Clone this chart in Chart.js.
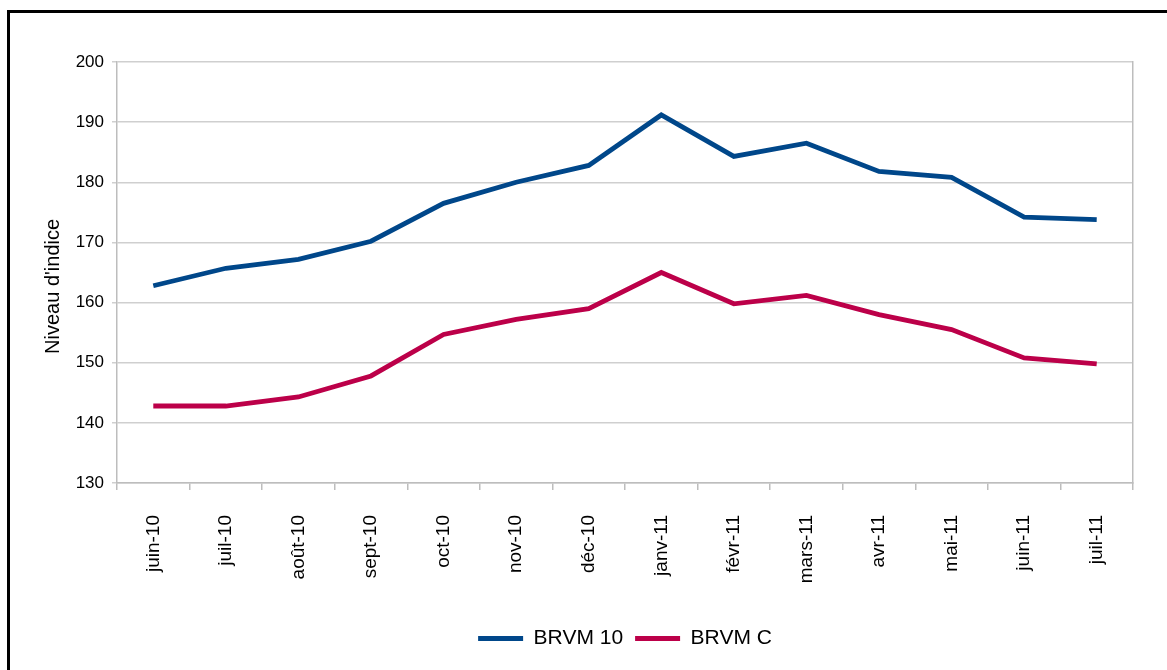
<!DOCTYPE html>
<html>
<head>
<meta charset="utf-8">
<script src="https://cdn.jsdelivr.net/npm/chart.js@4.4.0/dist/chart.umd.min.js"></script>
<style>
  html, body { margin: 0; padding: 0; background: #fff; overflow: hidden; }
  #frame { position: absolute; left: 7px; top: 10px; width: 1300px; height: 800px;
           border-left: 3px solid #000; border-top: 3px solid #000; }
  #wrap { position: absolute; left: 0; top: 0; width: 1167px; height: 670px; }
</style>
</head>
<body>
<div id="frame"></div>
<div id="wrap"><canvas id="c" width="1167" height="670"></canvas></div>
<script>
const categories = ["juin-10","juil-10","août-10","sept-10","oct-10","nov-10","déc-10","janv-11","févr-11","mars-11","avr-11","mai-11","juin-11","juil-11"];
const brvm10 = [162.8,165.7,167.2,170.2,176.5,180.0,182.8,191.2,184.3,186.5,181.8,180.8,174.2,173.8];
const brvmC  = [142.8,142.8,144.3,147.8,154.7,157.2,159.0,165.0,159.8,161.2,158.0,155.5,150.8,149.8];
const yTicks = [130,140,150,160,170,180,190,200];

const FONT = "'Liberation Sans', Arial, sans-serif";
const AXIS_GRAY = '#bdbdbd';

new Chart(document.getElementById('c'), {
  type: 'line',
  data: {
    labels: categories,
    datasets: [
      { label: 'BRVM 10', data: brvm10, borderColor: '#00478A', backgroundColor: '#00478A',
        borderWidth: 4.8, pointRadius: 0, tension: 0, yAxisID: 'y' },
      { label: 'BRVM C', data: brvmC, borderColor: '#BC0049', backgroundColor: '#BC0049',
        borderWidth: 4.8, pointRadius: 0, tension: 0, yAxisID: 'y' }
    ]
  },
  options: {
    responsive: false,
    animation: false,
    devicePixelRatio: 1,
    layout: { padding: { left: 30, top: 62, right: 34, bottom: 11 } },
    plugins: {
      legend: {
        position: 'bottom',
        fullSize: false,
        labels: {
          usePointStyle: true,
          pointStyle: 'line',
          pointStyleWidth: 45,
          boxWidth: 45,
          boxHeight: 5,
          padding: 12,
          color: '#000',
          font: { family: FONT, size: 21 }
        }
      },
      tooltip: { enabled: false }
    },
    scales: {
      x: {
        offset: true,
        grid: { offset: true, drawOnChartArea: false, drawTicks: true, tickLength: 7, color: AXIS_GRAY, lineWidth: 1.5 },
        border: { color: AXIS_GRAY, width: 1.5 },
        ticks: { minRotation: 90, maxRotation: 90, padding: 25, color: '#000', autoSkip: false,
                 font: { family: FONT, size: 19 } },
        afterFit: s => { s.height = 133; }
      },
      y: {
        min: 130, max: 200,
        afterBuildTicks: s => { s.ticks = yTicks.map(v => ({ value: v })); },
        grid: { color: '#cfcfcf', lineWidth: 1.5, tickLength: 5, drawTicks: true },
        border: { color: AXIS_GRAY, width: 1.5 },
        ticks: { padding: 8, color: '#000', font: { family: FONT, size: 17 } },
        title: { display: true, text: "Niveau d'indice\u00a0\u00a0\u00a0\u00a0\u00a0", color: '#000',
                 padding: { top: 11, bottom: 0 },
                 font: { family: FONT, size: 20 } },
        afterFit: s => { s.width = 87; }
      },
      y2: {
        position: 'right',
        min: 130, max: 200,
        grid: { drawOnChartArea: false, drawTicks: false },
        border: { color: AXIS_GRAY, width: 1.5 },
        ticks: { display: false },
        afterFit: s => { s.width = 0; }
      }
    }
  }
});
</script>
</body>
</html>
